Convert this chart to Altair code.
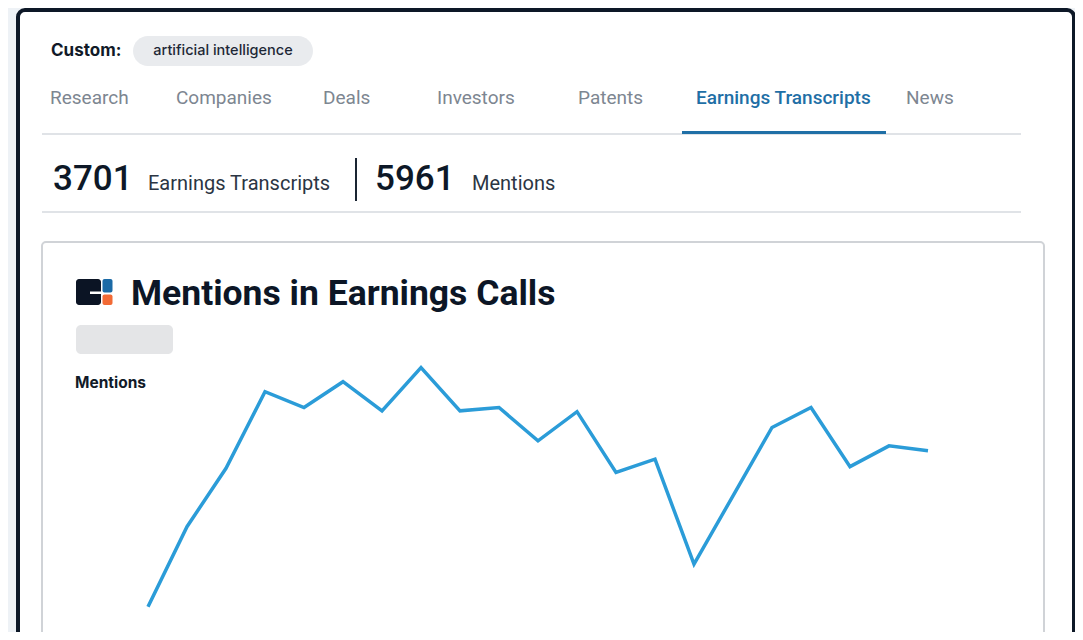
import altair as alt
import pandas as pd

# ---- data ----
quarters = ["Q1 2018", "Q2 2018", "Q3 2018", "Q4 2018", "Q1 2019", "Q2 2019", "Q3 2019",
            "Q4 2019", "Q1 2020", "Q2 2020", "Q3 2020", "Q4 2020", "Q1 2021", "Q2 2021",
            "Q3 2021", "Q4 2021", "Q1 2022", "Q2 2022", "Q3 2022", "Q4 2022", "Q1 2023"]
mentions = [112, 208, 278, 370, 351, 382, 347, 399, 347, 351, 311, 346, 273, 289,
            163, 245, 327, 351, 280, 305, 299]

tab_labels = ["Research", "Companies", "Deals", "Investors", "Patents", "Earnings Transcripts", "News"]
active_tab = "Earnings Transcripts"
custom_label = "Custom:"
custom_term = "artificial intelligence"
transcripts_count = "3701"
transcripts_label = "Earnings Transcripts"
mentions_count = "5961"
mentions_label = "Mentions"
chart_title = "Mentions in Earnings Calls"
y_title = "Mentions"

df = pd.DataFrame({"quarter": quarters, "mentions": mentions})
one = pd.DataFrame({"k": [0]})

DARK = "#0d1827"
GREY_TXT = "#7d8691"
BLUE = "#1f6fa6"
LINE = "#2b9cd8"


def rect(x, x2, y, y2, fill=None, stroke=None, sw=0, r=0):
    kw = {"fill": fill if fill is not None else "transparent"}
    if stroke is not None:
        kw["stroke"] = stroke
        kw["strokeWidth"] = sw
    if r:
        kw["cornerRadius"] = r
    return alt.Chart(one).mark_rect(**kw).encode(
        x=alt.value(x), x2=alt.value(x2), y=alt.value(y), y2=alt.value(y2))


def text(t, x, y, size, color, weight="normal", font="Roboto", align="left", baseline="alphabetic"):
    return alt.Chart(one).mark_text(
        text=t, fontSize=size, color=color, fontWeight=weight, font=font,
        align=align, baseline=baseline).encode(x=alt.value(x), y=alt.value(y))


layers = []
# outer card (white with dark border)
layers.append(rect(10, 1066, 2, 760, fill="#ffffff", stroke=DARK, sw=4, r=7))

# Custom row
layers.append(text(custom_label, 43, 48, 17, "#111a28", weight="bold", font="Inter"))
layers.append(rect(125, 305, 28, 58, fill="#e9ebee", r=15))
layers.append(text(custom_term, 215, 43, 14.5, "#1d2736", weight=500, font="Inter",
                   align="center", baseline="middle"))

# tabs
tab_x = [42, 168, 315, 429, 570, 688, 898]
for lab, tx in zip(tab_labels, tab_x):
    col = BLUE if lab == active_tab else GREY_TXT
    layers.append(text(lab, tx, 96, 19, col, weight=500 if lab == active_tab else "normal"))
layers.append(rect(34, 1013, 125, 127, fill="#e0e3e7"))
layers.append(rect(674, 878, 123, 126, fill=BLUE))

# stats row
layers.append(text(transcripts_count, 45, 182, 35, DARK, weight=500))
layers.append(text(transcripts_label, 140, 182, 20, "#2b3543"))
layers.append(rect(347, 349, 150, 193, fill="#1a2533"))
layers.append(text(mentions_count, 367, 182, 35, DARK, weight=500))
layers.append(text(mentions_label, 464, 182, 20, "#2b3543"))
layers.append(rect(34, 1013, 203, 205, fill="#e0e3e7"))

# chart card
layers.append(rect(34, 1036, 234, 760, fill="#ffffff", stroke="#d0d3d7", sw=2, r=4))

# icon
layers.append(rect(68, 93, 271, 297, fill="#0b1424", r=3))
layers.append(rect(82, 94, 283.5, 286, fill="#ffffff"))
layers.append(rect(94.5, 104.5, 271, 284.5, fill="#1b6aa6", r=2))
layers.append(rect(94.5, 104.5, 286.5, 297, fill="#f26a35", r=2))

# chart title
layers.append(text(chart_title, 123, 297, 35.5, "#0c1626", weight="bold"))
layers.append(rect(68, 165, 317, 346, fill="#e4e5e7", r=5))
layers.append(text(y_title, 67, 380, 15.5, "#111a28", weight="bold", font="Inter"))

# the data line
line = alt.Chart(df).mark_line(color=LINE, strokeWidth=3.5, strokeJoin="miter").encode(
    x=alt.X("quarter:O", sort=None, axis=None,
            scale=alt.Scale(range=[140, 920], padding=0)),
    y=alt.Y("mentions:Q", axis=None,
            scale=alt.Scale(domain=[0, 480], range=[692, 292], nice=False, zero=False)),
)
layers.append(line)

chart = alt.layer(*layers).properties(
    width=1067, height=624, padding=0, autosize="none", background="#eef2f6"
).configure_view(stroke=None)

chart.save("out.html", embed_options={"renderer": "svg", "actions": False})
